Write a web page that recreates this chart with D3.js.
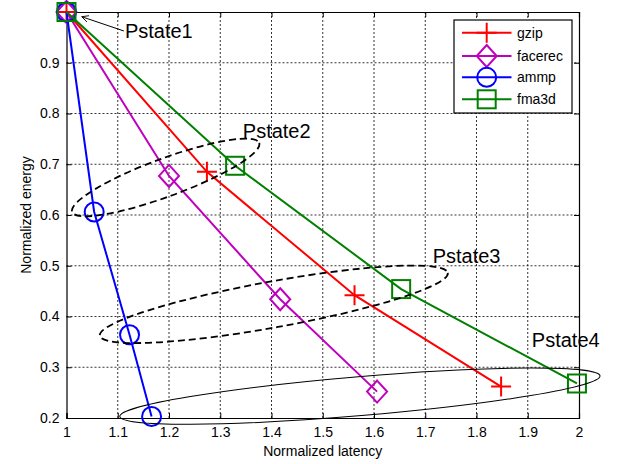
<!DOCTYPE html>
<html>
<head>
<meta charset="utf-8">
<script src="https://cdn.jsdelivr.net/npm/d3@7"></script>
<style>
  body { margin: 0; background: #fff; }
  text { font-family: "Liberation Sans", Arial, sans-serif; }
</style>
</head>
<body>
<svg id="chart" width="621" height="464"></svg>
<script>
const seriesNames = ['gzip', 'facerec', 'ammp', 'fma3d']
const seriesColors = ['#ff0000', '#bf00bf', '#0000ff', '#008000']
const seriesMarkers = ['plus', 'diamond', 'circle', 'square']
const gzipX = [1, 1.274, 1.562, 1.848]
const gzipY = [1, 0.685, 0.442, 0.262]
const facerecX = [1, 1.2, 1.417, 1.606]
const facerecY = [1, 0.677, 0.434, 0.252]
const ammpX = [1, 1.054, 1.123, 1.166]
const ammpY = [1, 0.606, 0.364, 0.203]
const fma3dX = [1, 1.329, 1.653, 1.996]
const fma3dY = [1, 0.697, 0.454, 0.268]
const xTicks = [1, 1.1, 1.2, 1.3, 1.4, 1.5, 1.6, 1.7, 1.8, 1.9, 2]
const yTicks = [0.2, 0.3, 0.4, 0.5, 0.6, 0.7, 0.8, 0.9, 1]
const yTickLabels = ['0.2', '0.3', '0.4', '0.5', '0.6', '0.7', '0.8', '0.9', '']
// pstate groups: ends of the major axis in data units
const pstateNames = ['Pstate2', 'Pstate3', 'Pstate4']
const pstateEnds = [[[1.011, 0.606], [1.376, 0.742]], [[1.065, 0.362], [1.744, 0.486]], [[1.104, 0.203], [2.041, 0.283]]]
const labelNames = ['Pstate1', 'Pstate2', 'Pstate3', 'Pstate4']
const labelPos = [[1.114, 0.948], [1.344, 0.751], [1.7145, 0.505], [1.908, 0.340]]
const arrowFrom = [1.112, 0.9626]
const arrowTo = [1.0297, 0.9907]

const width = 621
const height = 464
const margin = {top: 12, left: 66.5, right: 42, bottom: 46}
const minorHalf = [19, 23, 19.5]
const ellipseDash = ['7,4', '7,4', null]
const ellipseWidth = [1.8, 1.8, 1]

const svg = d3.select('#chart')
const xScale = d3.scaleLinear().domain([1, 2]).range([margin.left, width - margin.right])
const yScale = d3.scaleLinear().domain([0.2, 1]).range([height - margin.bottom, margin.top])
const x0 = xScale.range()[0], x1 = xScale.range()[1]
const y0 = yScale.range()[0], y1 = yScale.range()[1]

// grid
let grid = svg.append('g')
grid.selectAll('.vg').data(xTicks.slice(1, -1)).enter().append('line')
  .attr('x1', d => xScale(d)).attr('x2', d => xScale(d))
  .attr('y1', y0).attr('y2', y1)
  .style('stroke', '#000').style('stroke-width', 0.8).style('stroke-dasharray', '2,2')
grid.selectAll('.hg').data(yTicks.slice(1, -1)).enter().append('line')
  .attr('y1', d => yScale(d)).attr('y2', d => yScale(d))
  .attr('x1', x0).attr('x2', x1)
  .style('stroke', '#000').style('stroke-width', 0.8).style('stroke-dasharray', '2,2')

// axes
let xAxis = svg.append('g').attr('transform', `translate(0,${y0})`)
  .call(d3.axisBottom(xScale).tickValues(xTicks).tickSize(-5).tickPadding(9).tickFormat(d3.format('')))
let yAxis = svg.append('g').attr('transform', `translate(${x0},0)`)
  .call(d3.axisLeft(yScale).tickValues(yTicks).tickSize(-5).tickPadding(7).tickFormat((d, i) => yTickLabels[i]))
svg.append('g').attr('transform', `translate(0,${y1})`)
  .call(d3.axisTop(xScale).tickValues(xTicks).tickSize(-5).tickFormat(''))
svg.append('g').attr('transform', `translate(${x1},0)`)
  .call(d3.axisRight(yScale).tickValues(yTicks).tickSize(-5).tickFormat(''))
svg.selectAll('.domain').style('stroke', '#000').style('stroke-width', 1.2)
svg.selectAll('.tick line').style('stroke', '#000')
svg.selectAll('.tick text').style('font-size', '14px').style('fill', '#000')
  .style('font-family', '"Liberation Sans", Arial, sans-serif')

svg.append('text').attr('x', (x0 + x1) / 2).attr('y', 456).attr('text-anchor', 'middle')
  .style('font-size', '14px').text('Normalized latency')
svg.append('text').attr('transform', `translate(31,${(y0 + y1) / 2}) rotate(-90)`).attr('text-anchor', 'middle')
  .style('font-size', '14px').text('Normalized energy')

let drawMarker = function (g, type, color, cx, cy) {
  if (type === 'plus') {
    g.append('path').attr('d', `M${cx - 10},${cy}H${cx + 10}M${cx},${cy - 10}V${cy + 10}`)
      .style('stroke', color).style('stroke-width', 2).style('fill', 'none')
  } else if (type === 'diamond') {
    g.append('path').attr('d', `M${cx},${cy - 11}L${cx + 10},${cy}L${cx},${cy + 11}L${cx - 10},${cy}Z`)
      .style('stroke', color).style('stroke-width', 2).style('fill', 'none')
  } else if (type === 'circle') {
    g.append('circle').attr('cx', cx).attr('cy', cy).attr('r', 9.5)
      .style('stroke', color).style('stroke-width', 2).style('fill', 'none')
  } else {
    g.append('rect').attr('x', cx - 9).attr('y', cy - 9).attr('width', 18).attr('height', 18)
      .style('stroke', color).style('stroke-width', 2).style('fill', 'none')
  }
}

// series
const seriesX = [gzipX, facerecX, ammpX, fma3dX]
const seriesY = [gzipY, facerecY, ammpY, fma3dY]
seriesNames.forEach((name, i) => {
  let pts = seriesX[i].map((x, j) => [x, seriesY[i][j]])
  let g = svg.append('g')
  g.append('path').datum(pts)
    .attr('d', d3.line().x(d => xScale(d[0])).y(d => yScale(d[1])))
    .style('fill', 'none').style('stroke', seriesColors[i]).style('stroke-width', 2)
  pts.forEach(p => drawMarker(g, seriesMarkers[i], seriesColors[i], xScale(p[0]), yScale(p[1])))
})

// pstate ellipses
pstateEnds.forEach((ends, i) => {
  let ax = xScale(ends[0][0]), ay = yScale(ends[0][1])
  let bx = xScale(ends[1][0]), by = yScale(ends[1][1])
  let cx = (ax + bx) / 2, cy = (ay + by) / 2
  let rx = Math.hypot(bx - ax, by - ay) / 2
  let ang = Math.atan2(by - ay, bx - ax) * 180 / Math.PI
  svg.append('ellipse')
    .attr('transform', `translate(${cx},${cy}) rotate(${ang})`)
    .attr('rx', rx).attr('ry', minorHalf[i])
    .style('fill', 'none').style('stroke', '#000')
    .style('stroke-width', ellipseWidth[i])
    .style('stroke-dasharray', ellipseDash[i])
})

// labels
labelNames.forEach((name, i) => {
  svg.append('text').attr('x', xScale(labelPos[i][0])).attr('y', yScale(labelPos[i][1]))
    .style('font-size', '20px').style('fill', '#000').text(name)
})
svg.append('defs').append('marker').attr('id', 'arr')
  .attr('viewBox', '0 0 10 10').attr('refX', 10).attr('refY', 5)
  .attr('markerWidth', 10).attr('markerHeight', 7).attr('markerUnits', 'userSpaceOnUse')
  .attr('orient', 'auto')
  .append('path').attr('d', 'M0,0L10,5L0,10').style('fill', 'none').style('stroke', '#000').style('stroke-width', 1.2)
svg.append('line')
  .attr('x1', xScale(arrowFrom[0])).attr('y1', yScale(arrowFrom[1]))
  .attr('x2', xScale(arrowTo[0])).attr('y2', yScale(arrowTo[1]))
  .style('stroke', '#000').style('stroke-width', 1).attr('marker-end', 'url(#arr)')

// legend
let legend = svg.append('g').attr('transform', 'translate(454,20)')
legend.append('rect').attr('width', 118).attr('height', 93)
  .style('fill', '#fff').style('stroke', '#000').style('stroke-width', 1.2)
const legendRows = [12.7, 36, 57.3, 79.3]
seriesNames.forEach((name, i) => {
  let ly = legendRows[i]
  legend.append('line').attr('x1', 8).attr('x2', 57.5).attr('y1', ly).attr('y2', ly)
    .style('stroke', seriesColors[i]).style('stroke-width', 2)
  drawMarker(legend, seriesMarkers[i], seriesColors[i], 32.7, ly)
  legend.append('text').attr('x', 63).attr('y', ly + 5).style('font-size', '14px').text(name)
})
</script>
</body>
</html>
